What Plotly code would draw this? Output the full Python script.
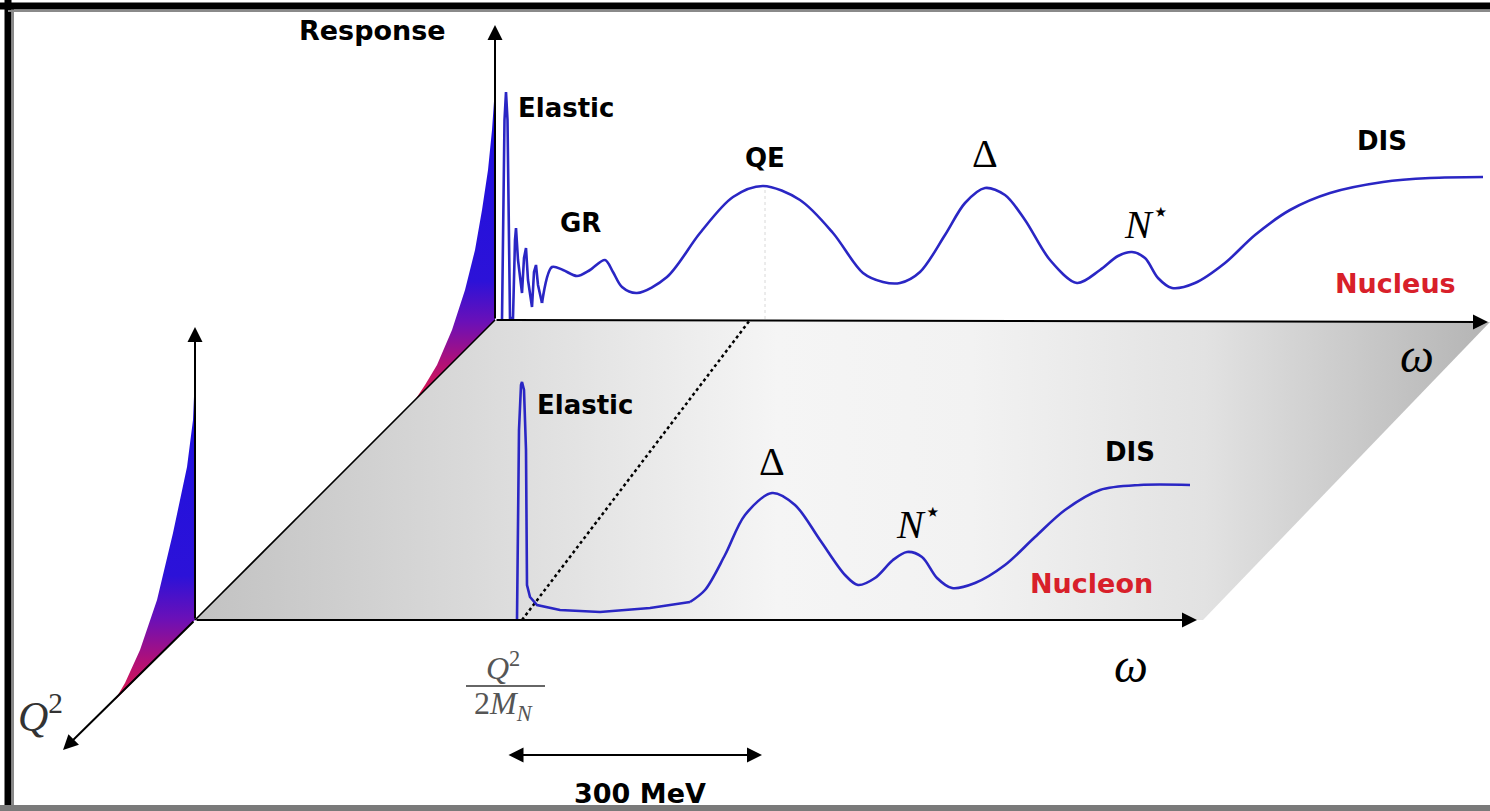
import plotly.graph_objects as go

W, H = 1490, 811

# ---------------- data (omega / response measured from each panel origin) ----------------
# Nucleus panel: elastic spike + giant-resonance ringing (sharp, drawn piecewise-linear)
nucleus_spike_omega = [7, 9.5, 11, 12.5, 15, 18, 20, 21, 23, 27, 29, 31, 33, 37, 39, 41, 43, 47]
nucleus_spike_resp = [0, 200, 228, 200, 2, 2, 80, 92, 60, 27, 62, 72, 40, 13, 48, 55, 35, 17]
# Nucleus panel: smooth continuum (GR, QE, Delta, N*, DIS)
nucleus_omega = [47, 57, 68, 82, 95, 110, 118, 127, 142, 172, 205, 238, 268, 305, 338, 368, 388,
                 405, 425, 450, 470, 490, 510, 530, 555, 582, 605, 623, 637, 650, 663, 677, 700,
                 730, 760, 795, 835, 888, 935, 988]
nucleus_resp = [17, 53, 50, 44, 50, 60, 48, 33, 27, 43, 87, 123, 134, 120, 87, 47, 38,
                37, 48, 85, 117, 132, 125, 100, 60, 37, 50, 64, 68, 62, 42, 32, 37,
                57, 85, 110, 127, 138, 142, 143]
# Nucleon panel: elastic spike and flat tail
nucleon_spike_omega = [322, 324, 326, 327, 329, 331, 332, 335, 342, 365, 405, 455, 495]
nucleon_spike_resp = [0, 190, 235, 238, 230, 170, 35, 23, 15, 10, 8, 12, 18]
# Nucleon panel: resonances and DIS
nucleon_omega = [495, 510, 530, 550, 577, 600, 625, 650, 663, 680, 698, 712, 727, 742, 757,
                 780, 810, 840, 870, 905, 945, 995]
nucleon_resp = [18, 30, 65, 105, 127, 115, 80, 45, 35, 42, 60, 68, 63, 42, 32,
                37, 55, 83, 110, 130, 135, 135]
# Q^2 fall-off of the elastic peak (q measured along the Q^2 axis)
nucleus_env_q = [0, 3, 7, 13, 20, 30, 43, 58, 70, 80]
nucleus_env_resp = [233, 193, 157, 123, 90, 60, 33, 13, 5, 0]
nucleon_env_q = [0, 2, 8, 15, 22, 38, 55, 70, 80]
nucleon_env_resp = [247, 202, 161, 135, 109, 58, 25, 7, 0]

# ---------------- layout geometry ----------------
NUCLEON_O = (195, 191)
NUCLEUS_O = (495, 491)
OMEGA_LEN_NUCLEON = 1002
OMEGA_LEN_NUCLEUS = 993

def proj(origin, omega, resp, q=None):
    if q is None:
        q = [0] * len(omega)
    xs = [origin[0] + o - qq for o, qq in zip(omega, q)]
    ys = [origin[1] + r - qq for r, qq in zip(resp, q)]
    return xs, ys

BLUE = '#2a26c4'
fig = go.Figure()

# gray plane
plane_x = [NUCLEON_O[0], NUCLEON_O[0] + 1008, 1490, NUCLEUS_O[0], NUCLEON_O[0]]
plane_y = [NUCLEON_O[1], NUCLEON_O[1], 489, NUCLEUS_O[1], NUCLEON_O[1]]
fig.add_trace(go.Scatter(x=plane_x, y=plane_y, mode='lines', fill='toself', line=dict(width=0),
                         fillgradient=dict(type='horizontal', start=195, stop=1490,
                                           colorscale=[[0, '#c2c2c2'], [0.2, '#d8d8d8'], [0.45, '#f5f5f5'],
                                                       [0.6, '#f2f2f2'], [0.78, '#e2e2e2'], [1, '#b4b4b4']]),
                         hoverinfo='skip', showlegend=False))

qscale = [[0, '#e0184a'], [0.12, '#b01078'], [0.25, '#6a10b8'], [0.38, '#2c12d8'], [1, '#1c10e0']]

def env_poly(origin, qs, rs):
    ex, ey = proj(origin, [0] * len(qs), rs, qs)
    ex = ex + [origin[0], origin[0]]
    ey = ey + [origin[1], ey[0]]
    return ex, ey

for origin, qs, rs in [(NUCLEUS_O, nucleus_env_q, nucleus_env_resp), (NUCLEON_O, nucleon_env_q, nucleon_env_resp)]:
    ex, ey = env_poly(origin, qs, rs)
    fig.add_trace(go.Scatter(x=ex, y=ey, mode='lines', fill='toself', line=dict(width=0),
                             fillgradient=dict(type='vertical', colorscale=qscale),
                             hoverinfo='skip', showlegend=False))

# plane left edge
fig.add_trace(go.Scatter(x=[NUCLEUS_O[0], NUCLEON_O[0]], y=[NUCLEUS_O[1], NUCLEON_O[1]], mode='lines',
                         line=dict(color='black', width=1.6), hoverinfo='skip', showlegend=False))
# faint QE marker line
fig.add_trace(go.Scatter(x=[765, 765], y=[621, 491], mode='lines', line=dict(color='#d8d8d8', width=1, dash='dot'),
                         hoverinfo='skip', showlegend=False))
# dashed 300 MeV shift line
fig.add_trace(go.Scatter(x=[522, 750], y=[191, 491], mode='lines', line=dict(color='black', width=2.5, dash='dot'),
                         hoverinfo='skip', showlegend=False))

# curves
for origin, om, rs, shape in [(NUCLEUS_O, nucleus_spike_omega, nucleus_spike_resp, 'linear'),
                               (NUCLEUS_O, nucleus_omega, nucleus_resp, 'spline'),
                               (NUCLEON_O, nucleon_spike_omega, nucleon_spike_resp, 'linear'),
                               (NUCLEON_O, nucleon_omega, nucleon_resp, 'spline')]:
    cx, cy = proj(origin, om, rs)
    fig.add_trace(go.Scatter(x=cx, y=cy, mode='lines', line=dict(color=BLUE, width=2.6, shape=shape, smoothing=0.9),
                             hoverinfo='skip', showlegend=False))

# frame
fig.add_trace(go.Scatter(x=[8, 8], y=[0, 811], mode='lines', line=dict(color='black', width=7), hoverinfo='skip', showlegend=False))
fig.add_trace(go.Scatter(x=[13, 13], y=[0, 805], mode='lines', line=dict(color='#8a8a8a', width=2), hoverinfo='skip', showlegend=False))
fig.add_trace(go.Scatter(x=[0, 1490], y=[805, 805], mode='lines', line=dict(color='black', width=7), hoverinfo='skip', showlegend=False))
fig.add_trace(go.Scatter(x=[8, 1490], y=[800, 800], mode='lines', line=dict(color='#8a8a8a', width=2), hoverinfo='skip', showlegend=False))
fig.add_trace(go.Scatter(x=[0, 1490], y=[3, 3], mode='lines', line=dict(color='#7a7a7a', width=6), hoverinfo='skip', showlegend=False))

annotations = []

def arrow(x0, y0, x1, y1, both=False, width=2):
    annotations.append(dict(x=x1, y=y1, ax=x0, ay=y0, xref='x', yref='y', axref='x', ayref='y', text='',
                            showarrow=True, arrowhead=2, arrowsize=1.5, arrowwidth=width, arrowcolor='black',
                            arrowside='end+start' if both else 'end', standoff=0, startstandoff=0,
                            startarrowhead=2, startarrowsize=1.5))

arrow(NUCLEUS_O[0], NUCLEUS_O[1], NUCLEUS_O[0], 786)
arrow(NUCLEON_O[0], NUCLEON_O[1], NUCLEON_O[0], 484)
arrow(NUCLEON_O[0], NUCLEON_O[1], 63, 61)
arrow(NUCLEON_O[0], NUCLEON_O[1], NUCLEON_O[0] + OMEGA_LEN_NUCLEON, NUCLEON_O[1])
arrow(NUCLEUS_O[0], NUCLEUS_O[1], NUCLEUS_O[0] + OMEGA_LEN_NUCLEUS, 489)
arrow(507, 56, 762, 56, both=True)

SANS = 'DejaVu Sans'
SERIF = 'Liberation Serif'

def label(x, y, text, size=26, color='black', family=SANS, weight='bold'):
    annotations.append(dict(x=x, y=y, xref='x', yref='y', text=text, showarrow=False,
                            xanchor='center', yanchor='middle',
                            font=dict(family=family, size=size, color=color, weight=weight)))

label(372, 781, 'Response', 27)
label(566, 703, 'Elastic', 26)
label(580, 588, 'GR', 26)
label(765, 653, 'QE', 26)
label(985, 658, 'Δ', 40, family=SERIF, weight='normal')
label(1147, 590, '<i>N</i><sup>⋆</sup>', 40, family=SERIF, weight='normal')
label(1382, 670, 'DIS', 26)
label(1395, 528, 'Nucleus', 27, color='#d8202a')
label(1417, 456, '<i>ω</i>', 48, family=SERIF, weight='normal')
label(585, 406, 'Elastic', 26)
label(772, 350, 'Δ', 40, family=SERIF, weight='normal')
label(919, 290, '<i>N</i><sup>⋆</sup>', 40, family=SERIF, weight='normal')
label(1130, 359, 'DIS', 26)
label(1091, 228, 'Nucleon', 27, color='#d8202a')
label(1131, 146, '<i>ω</i>', 48, family=SERIF, weight='normal')
label(40, 98, '<i>Q</i><sup>2</sup>', 42, color='#333333', family=SERIF, weight='normal')
label(503, 145, '<i>Q</i><sup>2</sup>', 32, color='#555555', family=SERIF, weight='normal')
label(503, 106, '2<i>M</i><sub><i>N</i></sub>', 32, color='#555555', family=SERIF, weight='normal')
label(640, 18, '300 MeV', 27)

fig.add_trace(go.Scatter(x=[466, 545], y=[125, 125], mode='lines', line=dict(color='#666666', width=2),
                         hoverinfo='skip', showlegend=False))

fig.update_layout(
    width=W, height=H, autosize=False,
    margin=dict(l=0, r=0, t=0, b=0),
    paper_bgcolor='white', plot_bgcolor='white',
    xaxis=dict(range=[0, W], visible=False, fixedrange=True),
    yaxis=dict(range=[0, H], visible=False, fixedrange=True),
    annotations=annotations,
    showlegend=False,
)

fig.write_html('out.html', config={'displayModeBar': False})
